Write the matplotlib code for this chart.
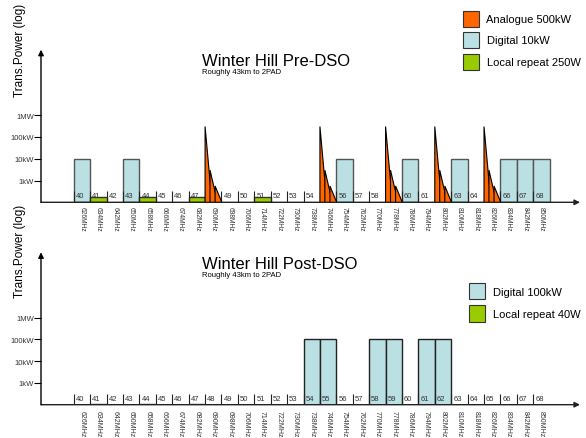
import matplotlib
matplotlib.use('Agg')
import matplotlib.pyplot as plt
from matplotlib.patches import Polygon, Rectangle
from matplotlib.ticker import NullLocator

plt.rcParams['font.family'] = ['Liberation Sans', 'DejaVu Sans']

# ---------------- data ----------------
channels = [40, 41, 42, 43, 44, 45, 46, 47, 48, 49, 50, 51, 52, 53, 54,
            55, 56, 57, 58, 59, 60, 61, 62, 63, 64, 65, 66, 67, 68]
freq_labels = ['626MHz', '634MHz', '642MHz', '650MHz', '658MHz', '666MHz',
               '674MHz', '682MHz', '690MHz', '698MHz', '706MHz', '714MHz',
               '722MHz', '730MHz', '738MHz', '746MHz', '754MHz', '762MHz',
               '770MHz', '778MHz', '786MHz', '794MHz', '802MHz', '810MHz',
               '818MHz', '826MHz', '834MHz', '842MHz', '850MHz']

pre_digital_ch = [40, 43, 56, 60, 63, 66, 67, 68]
pre_digital_w = 10000
pre_local_ch = [41, 44, 47, 51]
pre_local_w = 250
pre_analogue_ch = [48, 55, 59, 62, 65]
# analogue spectrum sketch: carriers (offset in channel, level W, spread in channel)
analogue_carrier_offset = [0.0, 0.30, 0.61]
analogue_carrier_w = [300000, 3000, 750]
analogue_carrier_span = [0.42, 0.46, 0.41]

post_digital_ch = [54, 55, 58, 59, 61, 62]
post_digital_w = 100000
post_local_ch = [41, 44, 47]
post_local_w = 40

ytick_vals = [1e3, 1e4, 1e5, 1e6]
ytick_labels = ['1kW', '10kW', '100kW', '1MW']

ORANGE = '#FF6600'
BLUE = '#BBE0E3'
GREEN = '#99CC00'
EDGE = '#333333'

W, H = 586, 439
fig = plt.figure(figsize=(W / 100, H / 100), dpi=100)


def px_box(x0, y_top, w, h):
    return (x0 / W, 1 - (y_top + h) / H, w / W, h / H)


def setup(ax, tick_fs, tick_pad):
    ax.set_yscale('symlog', linthresh=1000, linscale=0.9)
    ax.set_xlim(38, 70.85)
    ax.set_ylim(0, 1e9)
    for s in ax.spines.values():
        s.set_visible(False)
    ax.patch.set_alpha(0)
    ax.annotate('', xy=(1, 0), xytext=(0, 0), xycoords='axes fraction',
                arrowprops=dict(arrowstyle='-|>', color='#222222', lw=1,
                                mutation_scale=8, shrinkA=0, shrinkB=0))
    ax.annotate('', xy=(0, 1), xytext=(0, 0), xycoords='axes fraction',
                arrowprops=dict(arrowstyle='-|>', color='black', lw=1,
                                mutation_scale=8, shrinkA=0, shrinkB=0))
    ax.set_yticks(ytick_vals)
    ax.set_yticklabels(ytick_labels)
    ax.yaxis.set_minor_locator(NullLocator())
    ax.tick_params(axis='y', length=5, width=0.8, direction='out', pad=0,
                   labelsize=5.5, colors='black', labelcolor='#333333')
    ax.set_xticks([c + 0.5 for c in channels])
    ax.set_xticklabels(freq_labels, rotation=-90, fontsize=tick_fs,
                       color='#333333', va='top', ha='center')
    ax.tick_params(axis='x', length=0, pad=tick_pad)
    xt = ax.get_xaxis_transform()
    ax.vlines(channels, 0, 0.072, transform=xt, color='#222222', lw=0.8,
              zorder=3)
    for c in channels:
        ax.text(c + 0.12, 0.033, str(c), transform=xt, fontsize=5.5,
                color='#333333', va='baseline', ha='left', zorder=3)


# ---------------- top chart ----------------
ax1 = fig.add_axes(px_box(41, 50.7, 539, 152.6))
setup(ax1, 4.8, 2.5)
ax1.bar(pre_digital_ch, [pre_digital_w] * len(pre_digital_ch), width=1,
        align='edge', color=BLUE, edgecolor='#555555', lw=1, zorder=2)
ax1.bar(pre_local_ch, [pre_local_w] * len(pre_local_ch), width=1,
        align='edge', color=GREEN, edgecolor=EDGE, lw=1, zorder=2)
for c in pre_analogue_ch:
    for off, lvl, span in zip(analogue_carrier_offset, analogue_carrier_w,
                              analogue_carrier_span):
        tri = Polygon([(c + off, 0), (c + off, lvl), (c + off + span, 0)],
                      closed=True, facecolor=ORANGE, edgecolor='black',
                      lw=0.8, zorder=4)
        ax1.add_patch(tri)

fig.text(201.7 / W, 1 - 65.7 / H, 'Winter Hill Pre-DSO', fontsize=12,
         va='baseline', ha='left')
fig.text(201.7 / W, 1 - 74 / H, 'Roughly 43km to 2PAD', fontsize=5.5,
         va='baseline', ha='left')
fig.text(20 / W, 1 - 97 / H, 'Trans.Power (log)', fontsize=8.5, rotation=90,
         ha='center', va='bottom')

# legend top
for (y0, col, lab, tx) in [(11.7, ORANGE, 'Analogue 500kW', 486),
                           (32.5, BLUE, 'Digital 10kW', 487.3),
                           (54.5, GREEN, 'Local repeat 250W', 487.3)]:
    fig.add_artist(Rectangle((463.3 / W, 1 - (y0 + 16) / H), 16 / W, 16 / H,
                             transform=fig.transFigure, facecolor=col,
                             edgecolor=EDGE, lw=0.8))
    fig.text(tx / W, 1 - (y0 + 8) / H, lab, fontsize=8, va='center',
             ha='left')

# ---------------- bottom chart ----------------
ax2 = fig.add_axes(px_box(41, 253.3, 539, 152.4))
setup(ax2, 5.0, 4)
ax2.bar(post_digital_ch, [post_digital_w] * len(post_digital_ch), width=1,
        align='edge', color=BLUE, edgecolor='#222222', lw=1, zorder=2)
ax2.bar(post_local_ch, [post_local_w] * len(post_local_ch), width=1,
        align='edge', color=GREEN, edgecolor=EDGE, lw=1, zorder=2)

fig.text(201.7 / W, 1 - 268.7 / H, 'Winter Hill Post-DSO', fontsize=12,
         va='baseline', ha='left')
fig.text(201.7 / W, 1 - 277.3 / H, 'Roughly 43km to 2PAD', fontsize=5.5,
         va='baseline', ha='left')
fig.text(20 / W, 1 - 298 / H, 'Trans.Power (log)', fontsize=8.5, rotation=90,
         ha='center', va='bottom')

for (y0, col, lab) in [(283.5, BLUE, 'Digital 100kW'),
                       (306, GREEN, 'Local repeat 40W')]:
    fig.add_artist(Rectangle((469 / W, 1 - (y0 + 16.5) / H), 16 / W, 16.5 / H,
                             transform=fig.transFigure, facecolor=col,
                             edgecolor=EDGE, lw=0.8))
    fig.text(493.3 / W, 1 - (y0 + 9.5) / H, lab, fontsize=8, va='center',
             ha='left')

fig.savefig('out.png', dpi=100)
